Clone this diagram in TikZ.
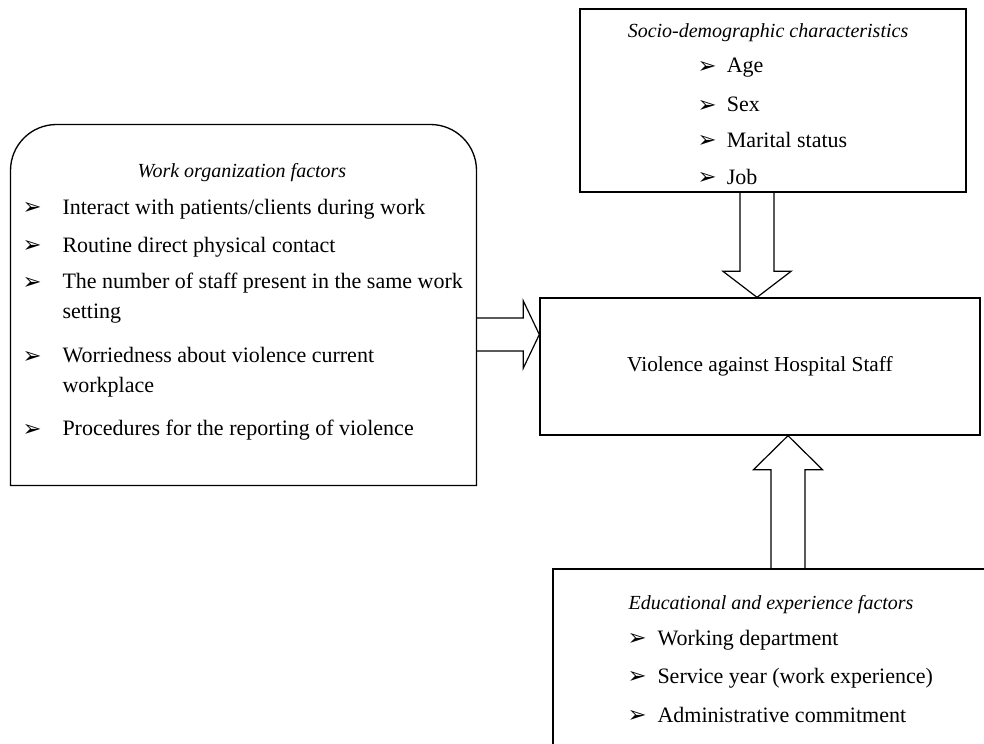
\documentclass[tikz,border=0pt]{standalone}
\usepackage{fontspec}
\setmainfont{Liberation Serif}
\newfontfamily\dingfont{DejaVu Sans}
\usetikzlibrary{calc}

% bullet with a fixed gap before the item text
\newcommand{\bul}[1][30pt]{\makebox[#1][l]{\raisebox{-0.5pt}{\dingfont\fontsize{17}{17}\selectfont ➢}}}

\tikzset{every picture/.style={line width=0.75pt}}
\tikzset{
	box/.style={draw, line width=1pt},
	fatarrow/.style={draw, line width=0.9pt},
	heading/.style={font=\fontsize{15}{18}\selectfont\itshape, inner sep=0pt},
	item/.style={anchor=west, align=left, font=\fontsize{16.5}{22.5}\selectfont, inner sep=0pt},
}

\begin{document}
\begin{tikzpicture}[x=0.75pt,y=0.75pt,yscale=-1,xscale=1]
	\useasboundingbox (0,0) rectangle (984,743);
	\clip (0,0) rectangle (984,743);

	% Boxes
	\node [box, minimum width=289.5pt, minimum height=137.25pt] (socio) at (773,100.5) {};
	\node [minimum width=348.75pt, minimum height=270pt] (work) at (243.5,305) {};
	\draw [box] (work.south west) -- ($(work.north west)+(0,46)$) arc [start angle=180, end angle=270, radius=46] -- ($(work.north east)+(-46,0)$) arc [start angle=270, end angle=360, radius=46] -- (work.south east) -- cycle ;
	\node [box, minimum width=330pt, minimum height=102.75pt, font=\fontsize{16}{20}\selectfont] (outcome) at (760,366.5) {Violence against Hospital Staff};
	\node [box, minimum width=345pt, minimum height=158.25pt] (edu) at (783,674.5) {};

	% Work organization factors
	\node [heading] (workT) at (242,173) {Work organization factors};
	\node [item] (w1) at (22,209) {\bul Interact with patients/clients during work};
	\node [item] (w2) at (22,247) {\bul Routine direct physical contact};
	\node [item] (w3) at (22,298) {\bul The number of staff present in the same work\\\hspace*{30pt}setting};
	\node [item] (w4) at (22,372.5) {\bul Worriedness about violence current\\\hspace*{30pt}workplace};
	\node [item] (w5) at (22,430) {\bul Procedures for the reporting of violence};

	% Socio-demographic characteristics
	\node [heading] (socioT) at (768,33) {Socio-demographic characteristics};
	\node [item] (s1) at (697,68) {\bul[22pt]Age};
	\node [item] (s2) at (697,105) {\bul[22pt]Sex};
	\node [item] (s3) at (697,140) {\bul[22pt]Marital status};
	\node [item] (s4) at (697,177) {\bul[22pt]Job};

	% Educational and experience factors
	\node [heading] (eduT) at (771,605) {Educational and experience factors};
	\node [item] (e1) at (627,640) {\bul[22.5pt]Working department};
	\node [item] (e2) at (627,678) {\bul[22.5pt]Service year (work experience)};
	\node [item] (e3) at (627,715) {\bul[22.5pt]Administrative commitment};

	% Block arrows
	\coordinate (wA) at (work.east |- 0,334.5);
	\coordinate (wB) at (outcome.west |- 0,334.5);
	\draw [fatarrow] ($(wA)+(0,-16.5)$) -- ($(wB)+(-16,-16.5)$) -- ($(wB)+(-16,-33.5)$) -- (wB) -- ($(wB)+(-16,33.5)$) -- ($(wB)+(-16,16.5)$) -- ($(wA)+(0,16.5)$) ;
	\coordinate (sA) at (757,0 |- socio.south);
	\coordinate (sB) at (757,0 |- outcome.north);
	\draw [fatarrow] ($(sA)+(-17,0)$) -- ($(sB)+(-17,-26)$) -- ($(sB)+(-34,-26)$) -- (sB) -- ($(sB)+(34,-26)$) -- ($(sB)+(17,-26)$) -- ($(sA)+(17,0)$) ;
	\coordinate (eA) at (788,0 |- edu.north);
	\coordinate (eB) at (788,0 |- outcome.south);
	\draw [fatarrow] ($(eA)+(-17,0)$) -- ($(eB)+(-17,34)$) -- ($(eB)+(-34.5,34)$) -- (eB) -- ($(eB)+(34.5,34)$) -- ($(eB)+(17,34)$) -- ($(eA)+(17,0)$) ;

\end{tikzpicture}
\end{document}
